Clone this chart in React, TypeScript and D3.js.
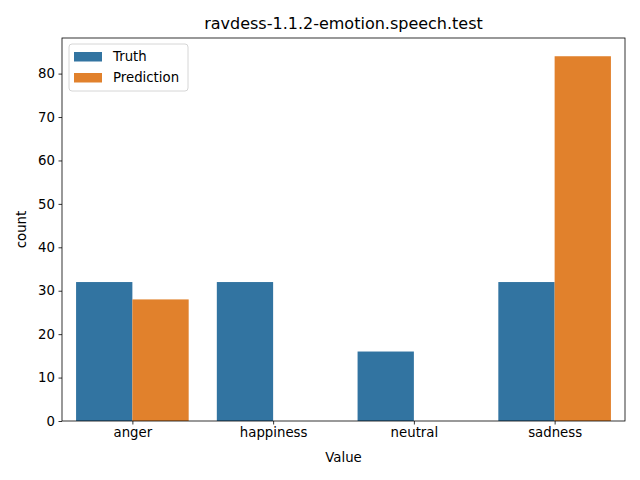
import React, { useRef, useEffect } from "react";
import * as d3 from "d3";

const categories = ["anger", "happiness", "neutral", "sadness"];
const series = ["Truth", "Prediction"];
const truthCounts = [32, 32, 16, 32];
const predictionCounts = [28, 0, 0, 84];
const yTicks = [0, 10, 20, 30, 40, 50, 60, 70, 80];
const colors = ["#3274a1", "#e1812c"];

const App = () => {
  const svgRef = useRef<SVGSVGElement>(null);

  useEffect(() => {
    const svg = d3.select(svgRef.current);
    svg.selectAll("*").remove();

    const width = 640;
    const height = 480;
    const margin = { top: 38, right: 15, bottom: 59, left: 62 };
    const innerWidth = width - margin.left - margin.right;
    const innerHeight = height - margin.top - margin.bottom;
    const font = "DejaVu Sans, sans-serif";

    const xScale = d3.scaleLinear().domain([-0.5, 3.5]).range([0, innerWidth]);
    const yScale = d3.scaleLinear().domain([0, 88.2]).range([innerHeight, 0]);

    const g = svg
      .append("g")
      .attr("transform", `translate(${margin.left},${margin.top})`);

    const data = [truthCounts, predictionCounts];
    const barW = 0.4;
    data.forEach((vals, si) => {
      g.selectAll(`.bar-${si}`)
        .data(vals)
        .enter()
        .append("rect")
        .attr("class", `bar-${si}`)
        .attr("x", (d, i) => xScale(i - 0.4 + si * barW))
        .attr("width", xScale(barW) - xScale(0))
        .attr("y", (d) => yScale(d))
        .attr("height", (d) => innerHeight - yScale(d))
        .attr("fill", colors[si]);
    });

    const xAxis = g
      .append("g")
      .attr("transform", `translate(0,${innerHeight})`)
      .call(
        d3
          .axisBottom(xScale)
          .tickValues(categories.map((c, i) => i))
          .tickFormat((d) => categories[d as number])
          .tickSize(3.5)
          .tickPadding(3.5)
          .tickSizeOuter(0)
      );
    xAxis.select(".domain").remove();

    const yAxis = g.append("g").call(
      d3
        .axisLeft(yScale)
        .tickValues(yTicks)
        .tickFormat(d3.format("d"))
        .tickSize(3.5)
        .tickPadding(3.5)
    );
    yAxis.select(".domain").remove();

    [xAxis, yAxis].forEach((ax) => {
      ax.selectAll("text")
        .attr("font-family", font)
        .attr("font-size", 13.3)
        .attr("fill", "#000");
      ax.selectAll("line").attr("stroke", "#000").attr("stroke-width", 0.8);
    });

    g.append("rect")
      .attr("width", innerWidth)
      .attr("height", innerHeight)
      .attr("fill", "none")
      .attr("stroke", "#000")
      .attr("stroke-width", 0.8);

    svg
      .append("text")
      .attr("x", margin.left + innerWidth / 2)
      .attr("y", margin.top - 9)
      .attr("text-anchor", "middle")
      .attr("font-family", font)
      .attr("font-size", 16)
      .text("ravdess-1.1.2-emotion.speech.test");

    svg
      .append("text")
      .attr("x", margin.left + innerWidth / 2)
      .attr("y", 462)
      .attr("text-anchor", "middle")
      .attr("font-family", font)
      .attr("font-size", 13.3)
      .text("Value");

    svg
      .append("text")
      .attr("transform", `translate(26,${margin.top + innerHeight / 2}) rotate(-90)`)
      .attr("text-anchor", "middle")
      .attr("font-family", font)
      .attr("font-size", 13.3)
      .text("count");

    const legend = g.append("g").attr("transform", "translate(7,6)");
    legend
      .append("rect")
      .attr("width", 119)
      .attr("height", 47)
      .attr("rx", 3)
      .attr("fill", "#fff")
      .attr("fill-opacity", 0.8)
      .attr("stroke", "#ccc")
      .attr("stroke-width", 0.8);
    series.forEach((s, i) => {
      legend
        .append("rect")
        .attr("x", 5)
        .attr("y", 8 + i * 21)
        .attr("width", 28)
        .attr("height", 9.5)
        .attr("fill", colors[i]);
      legend
        .append("text")
        .attr("x", 44)
        .attr("y", 17 + i * 21)
        .attr("font-family", font)
        .attr("font-size", 13.3)
        .text(s);
    });
  }, []);

  return (
    <div style={{ position: "absolute", left: 0, top: 0 }}>
      <svg ref={svgRef} width={640} height={480} style={{ display: "block", background: "#fff" }}></svg>
    </div>
  );
};

export default App;
